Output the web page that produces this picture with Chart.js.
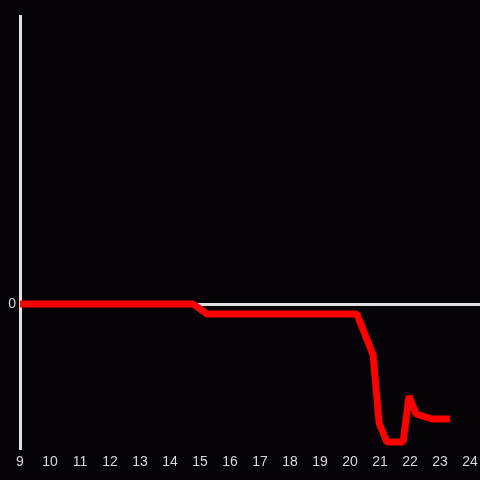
<!DOCTYPE html>
<html lang="en">
<head>
  <meta charset="UTF-8">
  <title>Line chart</title>
  <script src="https://cdn.jsdelivr.net/npm/chart.js"></script>
  <style>
    html, body { margin: 0; padding: 0; background: #050307; }
    #wrap { width: 480px; height: 480px; }
  </style>
</head>
<body>
  <div id="wrap"><canvas id="lineChart"></canvas></div>

  <script>
    // hours of day and values
    const hours = [8.9, 14.77, 15.23, 20.23, 20.77, 20.97, 21.23, 21.77, 21.97, 22.2, 22.73, 23.33];
    const values = [0, 0, -0.10, -0.10, -0.51, -1.19, -1.38, -1.38, -0.92, -1.10, -1.15, -1.15];
    const xTicks = [9, 10, 11, 12, 13, 14, 15, 16, 17, 18, 19, 20, 21, 22, 23, 24];
    const yTicks = [0];

    const points = hours.map((h, i) => ({ x: h, y: values[i] }));

    Chart.defaults.font.family = 'Liberation Sans, Arial, sans-serif';
    Chart.defaults.font.size = 14;

    const ctx = document.getElementById('lineChart').getContext('2d');
    new Chart(ctx, {
      type: 'line',
      data: {
        datasets: [{
          data: points,
          borderColor: '#ff0000',
          borderWidth: 7,
          borderJoinStyle: 'bevel',
          pointRadius: 0,
          tension: 0,
          fill: false
        }]
      },
      options: {
        responsive: true,
        maintainAspectRatio: false,
        animation: false,
        layout: { padding: { top: 16, left: 0, right: 0, bottom: 0 } },
        plugins: { legend: { display: false }, tooltip: { enabled: false } },
        scales: {
          x: {
            type: 'linear',
            min: 9,
            max: 24.333,
            afterBuildTicks: s => { s.ticks = xTicks.map(v => ({ value: v })); },
            afterFit: s => { s.height = 32; s.paddingLeft = 0; s.paddingRight = 0; },
            grid: { display: false, drawTicks: false },
            border: { display: false },
            ticks: { color: '#d8d8d8', padding: 6, maxRotation: 0, autoSkip: false }
          },
          y: {
            min: -1.44,
            max: 2.88,
            afterBuildTicks: s => { s.ticks = yTicks.map(v => ({ value: v })); },
            afterFit: s => { s.width = 20; },
            grid: { color: '#e0e0e0', lineWidth: 3, drawTicks: false },
            border: { display: true, color: '#e0e0e0', width: 3 },
            ticks: { color: '#d8d8d8', padding: 4 }
          }
        }
      }
    });
  </script>
</body>
</html>
